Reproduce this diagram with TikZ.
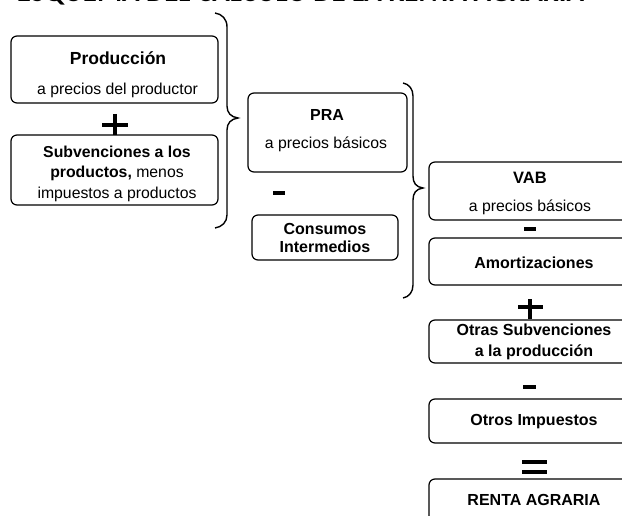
\documentclass[tikz,border=0pt]{standalone}
\usepackage{fontspec}
\setmainfont{Liberation Sans}
\newfontfamily\titlefont{Carlito}
\begin{document}
\begin{tikzpicture}[x=1pt,y=-1pt,
  box/.style={draw,rounded corners=6pt,line width=1.2pt,inner sep=0pt},
  txt/.style={inner sep=0pt,align=center,font=\fontsize{15.8}{20.5}\selectfont},
  btxt/.style={inner sep=0pt,align=center,font=\fontsize{16}{20.5}\selectfont\bfseries},
  brace/.style={line width=1.4pt},
  sign/.style={line width=4.3pt}]
\useasboundingbox (0,0) rectangle (622,516);
\clip (0,0) rectangle (622,516);
% title (only its lower edge is visible)
\node[anchor=base,inner sep=0pt] (title) at (300.5,1.5) {\resizebox{567pt}{!}{\titlefont\bfseries ESQUEMA DEL CÁLCULO DE LA RENTA AGRARIA}};
% left column
\node[box,minimum width=207pt,minimum height=67pt] (prod) at (114.5,69.5) {};
\node[btxt,font=\fontsize{17.5}{20}\selectfont\bfseries] (prodt) at (118,58) {Producción};
\node[txt] (prods) at (117.5,90) {a precios del productor};
\node[box,minimum width=207pt,minimum height=70pt] (subv) at (114.5,170) {};
\node[txt] (subvt) at (117,173.5) {\textbf{Subvenciones a los}\\\textbf{productos,} menos\\impuestos a productos};
\draw[sign] (102,125) -- (128,125);
\draw[sign] (115,114) -- (115,135);
% brace 1
\draw[brace] (215,13) .. controls (222,14) and (227,19) .. (227,27) -- (227,106) .. controls (227,113) and (231,117) .. (238,118) .. controls (231,119) and (227,123) .. (227,130) -- (227,215) .. controls (227,222) and (222,227) .. (215,228);
% middle column
\node[box,minimum width=159pt,minimum height=79pt] (pra) at (327.5,132.5) {};
\node[btxt] (prat) at (327,115) {PRA};
\node[txt] (pras) at (326,144) {a precios básicos};
\draw[sign] (273,193) -- (285,193);
\node[box,minimum width=146pt,minimum height=45pt] (cons) at (325,237.5) {};
\node[btxt,font=\fontsize{16}{18}\selectfont\bfseries] (const) at (325,238) {Consumos\\Intermedios};
% brace 2
\draw[brace] (403,83) .. controls (409,84) and (413,89) .. (413,96) -- (413,176) .. controls (413,183) and (416,187) .. (423,188) .. controls (416,189) and (413,193) .. (413,200) -- (413,285) .. controls (413,292) and (409,297) .. (403,298);
% right column
\node[box,minimum width=209pt,minimum height=58pt] (vab) at (533.5,191) {};
\node[btxt,font=\fontsize{16.5}{20}\selectfont\bfseries] (vabt) at (530,178) {VAB};
\node[txt] (vabs) at (530,207) {a precios básicos};
\draw[sign] (524,229) -- (536,229);
\node[box,minimum width=209pt,minimum height=47pt] (amor) at (533.5,261.5) {};
\node[btxt] (amort) at (534,263) {Amortizaciones};
\draw[sign] (518,307) -- (543,307);
\draw[sign] (530,299) -- (530,319);
\node[box,minimum width=209pt,minimum height=43pt] (otsub) at (533.5,341.5) {};
\node[btxt] (otsubt) at (534,342) {Otras Subvenciones\\a la producción};
\draw[sign] (523,387) -- (536,387);
\node[box,minimum width=209pt,minimum height=44pt] (otimp) at (533.5,421) {};
\node[btxt] (otimpt) at (534,422) {Otros Impuestos};
\draw[sign,line width=4pt] (522,462) -- (547,462);
\draw[sign,line width=4pt] (522,472) -- (547,472);
\node[box,minimum width=209pt,minimum height=61pt] (renta) at (533.5,509.5) {};
\node[btxt] (rentat) at (534,500) {RENTA AGRARIA};
\end{tikzpicture}
\end{document}
